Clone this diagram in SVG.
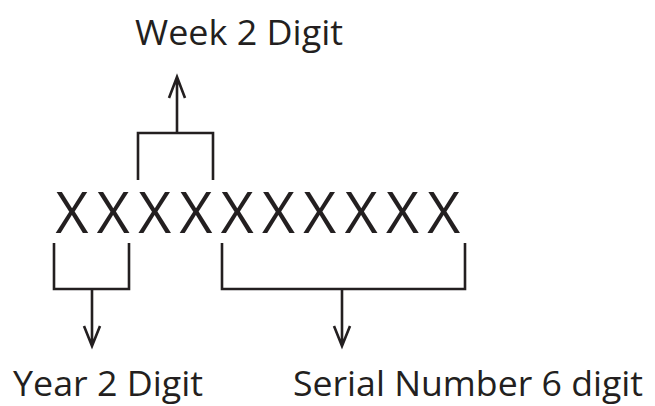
<svg xmlns="http://www.w3.org/2000/svg" width="655" height="406" viewBox="0 0 655 406">
<style>
.t{font-family:"Open Sans","Noto Sans","Liberation Sans",sans-serif;fill:#231f20;font-size:35px}
.x{font-family:"Open Sans","Noto Sans","Liberation Sans",sans-serif;fill:#231f20;font-size:57px;text-anchor:middle}
.l{fill:none;stroke:#231f20;stroke-width:2.6}
</style>
<rect width="655" height="406" fill="#fff"/>
<g id="code">
<text class="x" y="233" x="72 113.3 154.6 195.9 237.2 278.5 319.8 361.1 402.4 443.7">XXXXXXXXXX</text>
</g>
<g id="week">
<text class="t" x="135" y="45" textLength="208" lengthAdjust="spacingAndGlyphs">Week 2 Digit</text>
</g>
<g id="year">
<text class="t" x="13" y="396" textLength="190" lengthAdjust="spacingAndGlyphs">Year 2 Digit</text>
</g>
<g id="serial">
<text class="t" x="293" y="396" textLength="350" lengthAdjust="spacingAndGlyphs">Serial Number 6 digit</text>
</g>
<g id="connectors">
<path class="l" d="M138 180V133H213V180M177 133V77M169 98L177 77L185 98"/>
<path class="l" d="M54 243V289H129V243M92 289V346M84 326L92 346L100 326"/>
<path class="l" d="M222 243V289H465V243M342 289V346M334 326L342 346L350 326"/>
</g>
</svg>
